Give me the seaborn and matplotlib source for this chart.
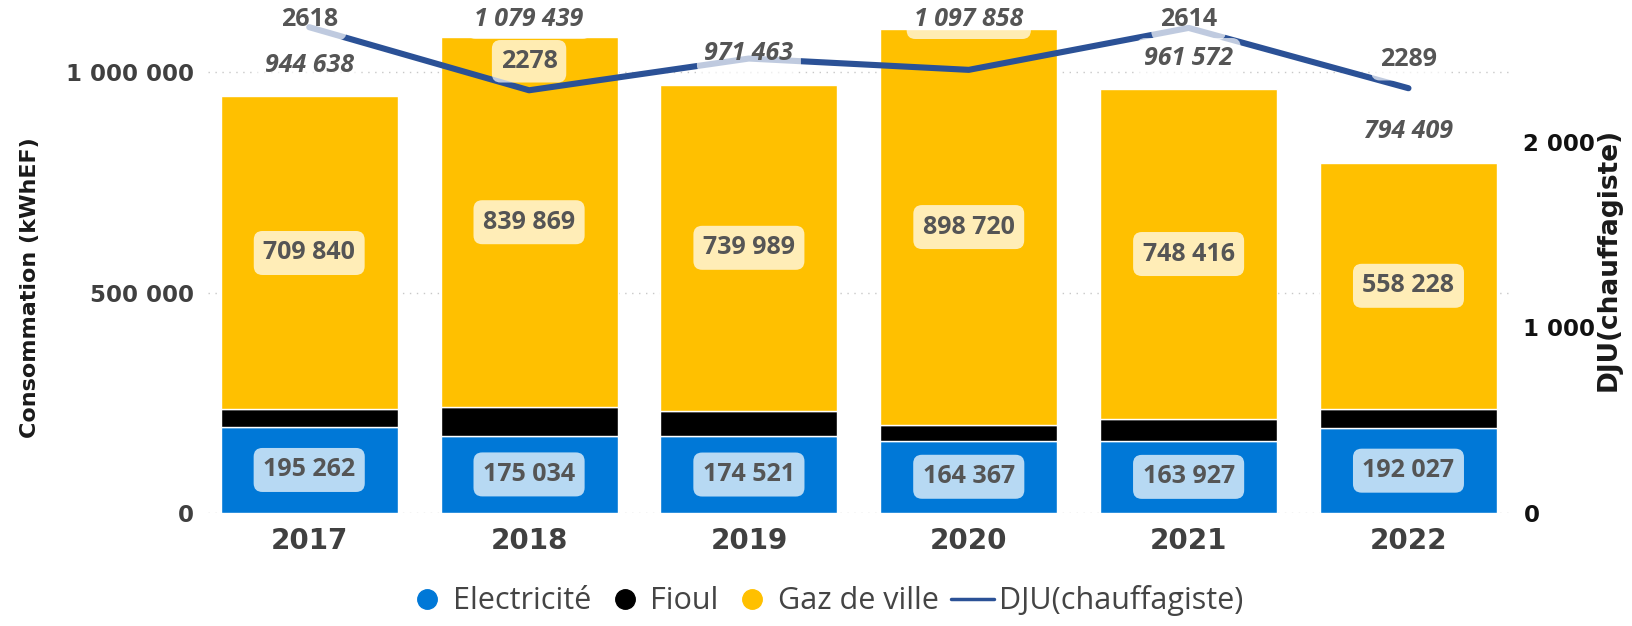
import numpy as np
import pandas as pd
import seaborn as sns
import matplotlib.pyplot as plt
from matplotlib.lines import Line2D

years = ["2017", "2018", "2019", "2020", "2021", "2022"]
electricite = [195262, 175034, 174521, 164367, 163927, 192027]
gaz = [709840, 839869, 739989, 898720, 748416, 558228]
totaux = [944638, 1079439, 971463, 1097858, 961572, 794409]
fioul = [t - e - g for t, e, g in zip(totaux, electricite, gaz)]
dju = [2618, 2278, 2449, 2388, 2614, 2289]
dju_show = [True, True, False, False, True, True]  # labels hidden in the original for 2019/2020

c_elec = "#0078D7"
c_fioul = "#000000"
c_gaz = "#FFC000"
c_dju = "#2B5196"
txt = "#555555"

sns.set_style("white")
plt.rcParams["font.family"] = ["DejaVu Sans"]

def fmt(v):
    return f"{v:,}".replace(",", " ")

df = pd.DataFrame({"annee": years, "elec": electricite, "fioul": fioul, "gaz": gaz})

fig = plt.figure(figsize=(16.32, 6.26), dpi=100)
ax = fig.add_axes([0.1275, 0.1805, 0.7975, 0.81])

sns.barplot(data=df, x="annee", y="elec", color=c_elec, width=0.805, ax=ax, saturation=1)
sns.barplot(data=df, x="annee", y="fioul", bottom=df["elec"], color=c_fioul, width=0.805,
            ax=ax, saturation=1)
sns.barplot(data=df, x="annee", y="gaz", bottom=df["elec"] + df["fioul"], color=c_gaz,
            width=0.805, ax=ax, saturation=1)

ymax = 1150000
ax.set_xlim(-0.46, 5.46)
ax.set_ylim(0, ymax)
ax.set_yticks([0, 500000, 1000000])
ax.set_yticklabels(["0", "500 000", "1 000 000"])
ax.grid(axis="y", linestyle=(0, (1, 4)), color="#c8c8c8", linewidth=1)
ax.set_axisbelow(True)
for s in ax.spines.values():
    s.set_visible(False)
ax.tick_params(axis="y", labelsize=16.5, labelcolor="#404040", length=0, pad=10)
ax.tick_params(axis="x", labelsize=20, labelcolor="#404040", length=0, pad=10)
for lab in ax.get_yticklabels() + ax.get_xticklabels():
    lab.set_fontweight("bold")
ax.set_xlabel("")
ax.set_ylabel("Consommation (kWhEF)", fontsize=16, fontweight="bold", color="#1a1a1a")
ax.yaxis.set_label_coords(-0.129, 0.445)

box_kw = dict(boxstyle="round,pad=0.38,rounding_size=0.35", fc="white", ec="none", alpha=0.72)
lab_font = dict(family=["Open Sans", "DejaVu Sans"], fontsize=18, fontweight="bold", color=txt)
for i in range(len(years)):
    ax.text(i, electricite[i] / 2, fmt(electricite[i]),
            ha="center", va="center", bbox=box_kw, **lab_font)
    gmid = electricite[i] + fioul[i] + gaz[i] / 2
    ax.text(i, gmid, fmt(gaz[i]), ha="center", va="center", bbox=box_kw, **lab_font)

ax2 = ax.twinx()
sns.lineplot(x=np.arange(len(years)), y=dju, color=c_dju, linewidth=4.4, ax=ax2,
             solid_capstyle="round", solid_joinstyle="round")
ax2.set_ylim(0, ymax * 2376 / 1000000)
ax2.set_yticks([0, 1000, 2000])
ax2.set_yticklabels(["0", "1 000", "2 000"])
for s in ax2.spines.values():
    s.set_visible(False)
ax2.tick_params(axis="y", labelsize=16.5, labelcolor="#111111", length=0, pad=10)
for lab in ax2.get_yticklabels():
    lab.set_fontweight("bold")
ax2.set_ylabel("DJU(chauffagiste)", fontsize=19, fontweight="bold", color="#1a1a1a")
ax2.yaxis.set_label_coords(1.066, 0.5)
ax2.grid(False)

# labels above the marks, pushed down so they stay inside the picture
fig_h = fig.bbox.height
top_px = 19

def label_offset(axis, i, v, wanted):
    y_from_top = fig_h - axis.transData.transform((i, v))[1]
    return min(wanted, y_from_top - top_px)

tot_box = dict(boxstyle="round,pad=0.3,rounding_size=0.35", fc="white", ec="none", alpha=0.7)
for i, v in enumerate(totaux):
    ax2.annotate(fmt(v), (i, v), xycoords=ax.transData,
                 xytext=(0, label_offset(ax, i, v, 31)), textcoords="offset pixels",
                 ha="center", va="center", style="italic", bbox=tot_box,
                 annotation_clip=False, **lab_font)

dju_box = dict(boxstyle="round,pad=0.35,rounding_size=0.35", fc="white", ec="none", alpha=0.7)
for i, v in enumerate(dju):
    if not dju_show[i]:
        continue
    ax2.annotate(str(v), (i, v), xytext=(0, label_offset(ax2, i, v, 29)),
                 textcoords="offset pixels", ha="center", va="center", bbox=dju_box,
                 annotation_clip=False, **lab_font)

handles = [
    Line2D([], [], marker="o", linestyle="", markersize=14, color=c_elec),
    Line2D([], [], marker="o", linestyle="", markersize=14, color=c_fioul),
    Line2D([], [], marker="o", linestyle="", markersize=14, color=c_gaz),
    Line2D([], [], color=c_dju, linewidth=2.5),
]
fig.legend(handles, ["Electricité", "Fioul", "Gaz de ville", "DJU(chauffagiste)"],
           loc="center", bbox_to_anchor=(0.505, 0.04), ncol=4, frameon=False,
           handletextpad=0.15, columnspacing=0.4, handlelength=1.4,
           prop=dict(family=["Open Sans", "DejaVu Sans"], size=22), labelcolor="#444444")

fig.savefig("out.png", dpi=100)
